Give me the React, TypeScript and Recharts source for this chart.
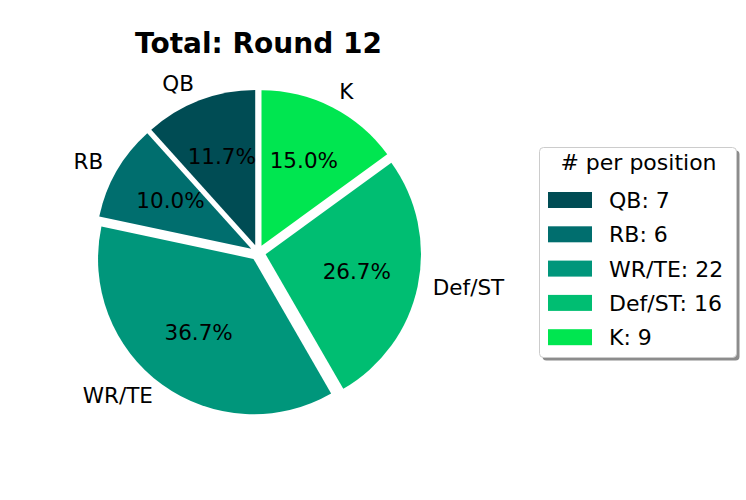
import React from 'react';
import { PieChart, Pie, Cell, Legend } from 'recharts';

const positions = ['QB', 'RB', 'WR/TE', 'Def/ST', 'K'];
const counts = [7, 6, 22, 16, 9];
const colors = ['#004C54', '#006E6E', '#00967B', '#00BE72', '#00E650'];
const chartTitle = 'Total: Round 12';
const legendTitle = '# per position';

const CX = 258;
const CY = 252.6;
const R = 155.4;
const EXPLODE = 0.05;
const FONT = 'DejaVu Sans, Verdana, sans-serif';
const FS = 21.5;
const LFS = 22;

const data = positions.map((name, i) => ({ name, value: counts[i] }));
const total = counts.reduce((a, b) => a + b, 0);

const midAngles = counts.map((v, i) => {
  const before = counts.slice(0, i).reduce((a, b) => a + b, 0);
  return 90 + (360 * (before + v / 2)) / total;
});

const renderLabel = (target: number) => (props: any) => {
  if (props.index !== target) return <g />;
  const cx = Number(props.cx);
  const cy = Number(props.cy);
  const r = Number(props.outerRadius);
  const ang = ((props.midAngle ?? midAngles[target]) * Math.PI) / 180;
  const cos = Math.cos(ang);
  const sin = Math.sin(ang);
  const px = cx + 0.6 * r * cos;
  const py = cy - 0.6 * r * sin;
  const lx = cx + 1.1 * r * cos;
  const ly = cy - 1.1 * r * sin;
  const pct = ((counts[target] / total) * 100).toFixed(1) + '%';
  const shift = FS * 0.262;
  return (
    <g>
      <text x={px} y={py + shift} textAnchor="middle" fontFamily={FONT} fontSize={FS} fill="#000">
        {pct}
      </text>
      <text x={lx} y={ly + shift} textAnchor={cos >= 0 ? 'start' : 'end'} fontFamily={FONT} fontSize={FS} fill="#000">
        {positions[target]}
      </text>
    </g>
  );
};

const LegendBox = () => {
  const rowY = (i: number) => 56 + i * 34.3;
  return (
    <svg width={212} height={222} style={{ display: 'block' }}>
      <rect x={6.5} y={6.5} width={197} height={210} rx={4} ry={4} fill="#8c8c8c" />
      <rect x={3.5} y={3.5} width={197} height={210} rx={4} ry={4} fill="#fff" stroke="#cccccc" strokeWidth={1} />
      <text x={102.5} y={26} textAnchor="middle" fontFamily={FONT} fontSize={LFS} fill="#000">
        {legendTitle}
      </text>
      {positions.map((p, i) => (
        <g key={p}>
          <rect x={12} y={rowY(i) - 8} width={44} height={16} fill={colors[i]} />
          <text x={73} y={rowY(i) + 8} fontFamily={FONT} fontSize={LFS} fill="#000">
            {`${p}: ${counts[i]}`}
          </text>
        </g>
      ))}
    </svg>
  );
};

export default function App() {
  return (
    <div style={{ position: 'absolute', left: 0, top: 0, width: 746, height: 500, background: '#fff' }}>
      <PieChart width={746} height={500} margin={{ top: 0, right: 0, bottom: 0, left: 0 }}>
        <text x={258.5} y={53} textAnchor="middle" fontFamily={FONT} fontSize={28} fontWeight="bold" fill="#000">
          {chartTitle}
        </text>
        {counts.map((_, i) => {
          const ang = (midAngles[i] * Math.PI) / 180;
          const dx = R * EXPLODE * Math.cos(ang);
          const dy = -R * EXPLODE * Math.sin(ang);
          return (
            <Pie
              key={positions[i]}
              data={data}
              dataKey="value"
              nameKey="name"
              cx={CX + dx}
              cy={CY + dy}
              innerRadius={0}
              outerRadius={R}
              startAngle={90}
              endAngle={450}
              stroke="none"
              isAnimationActive={false}
              labelLine={false}
              label={renderLabel(i)}
            >
              {data.map((d, j) => (
                <Cell key={d.name} fill={j === i ? colors[j] : 'none'} stroke="none" />
              ))}
            </Pie>
          );
        })}
        <Legend
          content={() => <LegendBox />}
          wrapperStyle={{ position: 'absolute', left: 536, top: 144, width: 212, height: 222 }}
        />
      </PieChart>
    </div>
  );
}
